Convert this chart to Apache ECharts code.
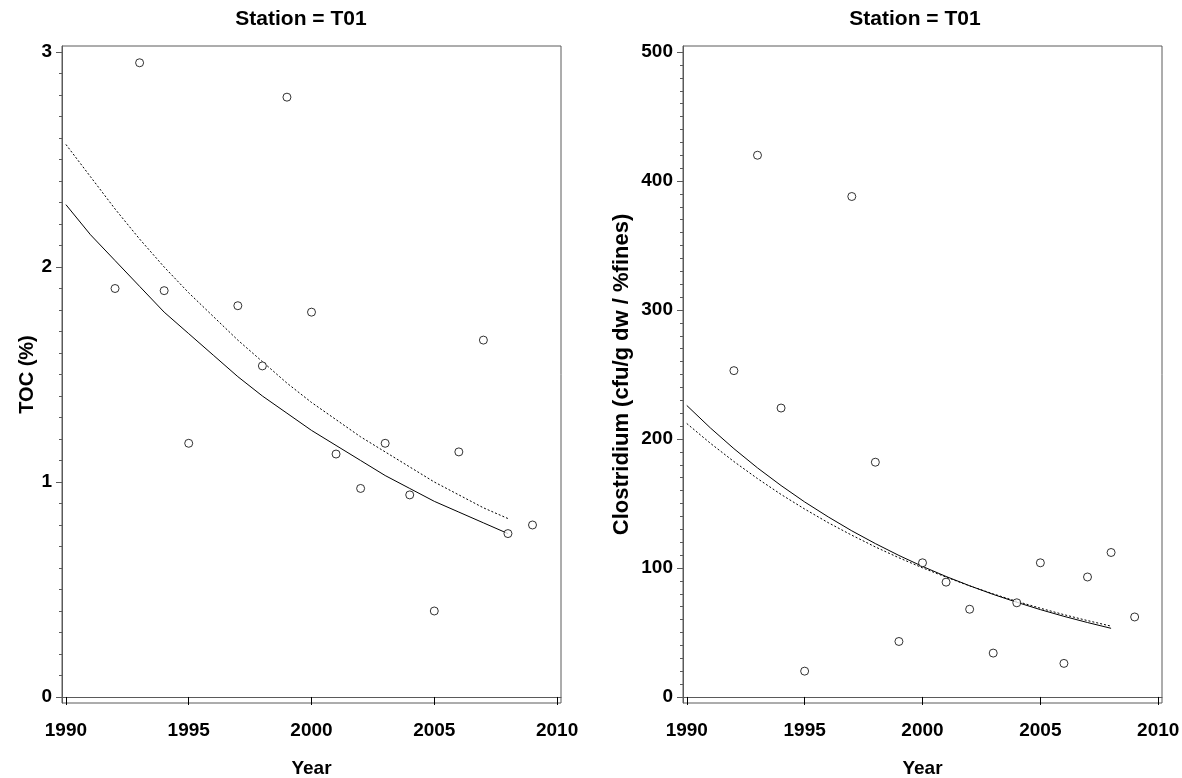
<!DOCTYPE html>
<html>
<head>
<meta charset="utf-8">
<script src="https://cdn.jsdelivr.net/npm/echarts@6/dist/echarts.min.js"></script>
<style>
html,body{margin:0;padding:0;background:#fff;}
#chart{width:1182px;height:778px;}
</style>
</head>
<body>
<div id="chart"></div>
<script>
// ---- data ----
const tocYears = [1992,1993,1994,1995,1997,1998,1999,2000,2001,2002,2003,2004,2005,2006,2007,2008,2009];
const tocValues = [1.90,2.95,1.89,1.18,1.82,1.54,2.79,1.79,1.13,0.97,1.18,0.94,0.40,1.14,1.66,0.76,0.80];

const cloYears = [1992,1993,1994,1995,1997,1998,1999,2000,2001,2002,2003,2004,2005,2006,2007,2008,2009];
const cloValues = [253,420,224,20,388,182,43,104,89,68,34,73,104,26,93,112,62];

const fitYears = [1990,1991,1992,1993,1994,1995,1996,1997,1998,1999,2000,2001,2002,2003,2004,2005,2006,2007,2008];
const tocFitSolid = [2.29,2.15,2.03,1.91,1.79,1.69,1.59,1.49,1.40,1.32,1.24,1.17,1.10,1.03,0.97,0.91,0.86,0.81,0.76];
const tocFitDashed = [2.57,2.42,2.27,2.13,2.00,1.88,1.77,1.66,1.56,1.46,1.37,1.29,1.21,1.14,1.07,1.00,0.94,0.88,0.83];
const cloFitSolid = [226,208.6,192.5,177.6,163.9,151.2,139.6,128.8,118.9,109.7,101.2,93.4,86.2,79.5,73.4,67.7,62.5,57.7,53.2];
const cloFitDashed = [212,196.7,182.5,169.3,157.0,145.7,135.1,125.4,116.3,107.9,100.1,92.9,86.1,79.9,74.1,68.8,63.8,59.2,54.9];

const xTicks = [1990,1995,2000,2005,2010];
const tocTicks = [0,1,2,3];
const cloTicks = [0,100,200,300,400,500];

const titles = ['Station = T01','Station = T01'];
const yNames = ['TOC (%)','Clostridium (cfu/g dw / %fines)'];
const xName = 'Year';

// ---- helpers ----
function pairs(xs, ys){ return xs.map((x,i)=>[x, ys[i]]); }
function minorOf(major){
  const out = [];
  for (let i = 0; i < major.length - 1; i++) {
    const step = (major[i+1] - major[i]) / 10;
    for (let k = 1; k < 10; k++) out.push(+(major[i] + k*step).toFixed(6));
  }
  return out;
}

const FONT = "'Liberation Sans', Arial, sans-serif";
const AX = '#5a5a5a';
const grids = [
  {left: 62, top: 46, width: 499, height: 657},
  {left: 683, top: 46, width: 479, height: 657}
];

function xAxisFor(gi){
  return {
    type: 'value', gridIndex: gi, min: 1989.84, max: 2010.16,
    name: xName, nameLocation: 'middle', nameGap: 56,
    nameTextStyle: {fontFamily: FONT, fontWeight: 'bold', fontSize: 19, color: '#000'},
    axisLine: {show: true, lineStyle: {color: AX, width: 1}},
    axisTick: {show: true, customValues: xTicks, length: 8, inside: false, lineStyle: {color: '#000'}},
    axisLabel: {show: true, customValues: xTicks, margin: 18, formatter: v => String(Math.round(v)),
      fontFamily: FONT, fontWeight: 'bold', fontSize: 19, color: '#000'},
    splitLine: {show: false}
  };
}
function yAxesFor(gi, ticks, min, max, name, gap, nameSize){
  return [{
    type: 'value', gridIndex: gi, min: min, max: max, position: 'left',
    name: name, nameLocation: 'middle', nameGap: gap, nameRotate: 90,
    nameTextStyle: {fontFamily: FONT, fontWeight: 'bold', fontSize: nameSize, color: '#000'},
    axisLine: {show: true, lineStyle: {color: AX, width: 1}},
    axisTick: {show: true, customValues: ticks, length: 6, lineStyle: {color: AX}},
    axisLabel: {show: true, customValues: ticks, margin: 10, formatter: v => String(Math.round(v)),
      fontFamily: FONT, fontWeight: 'bold', fontSize: 19, color: '#000'},
    splitLine: {show: false}
  },{
    type: 'value', gridIndex: gi, min: min, max: max, position: 'left',
    axisLine: {show: false},
    axisTick: {show: true, customValues: minorOf(ticks), length: 3, lineStyle: {color: AX}},
    axisLabel: {show: false},
    splitLine: {show: false}
  }];
}

const scatterStyle = {
  type: 'scatter', symbol: 'circle', symbolSize: 8,
  itemStyle: {color: '#fff', borderColor: '#000', borderWidth: 1},
  z: 5
};
function line(xi, yi, data, dashed){
  return {
    type: 'line', xAxisIndex: xi, yAxisIndex: yi, data: data,
    showSymbol: false, symbol: 'none', smooth: false,
    lineStyle: {color: '#000', width: 1, type: dashed ? [2,2] : 'solid'},
    z: 3
  };
}

const option = {
  animation: false,
  backgroundColor: '#fff',
  title: [
    {text: titles[0], left: 296, top: 4, textAlign: 'center',
     textStyle: {fontFamily: FONT, fontWeight: 'bold', fontSize: 21, color: '#000'}},
    {text: titles[1], left: 910, top: 4, textAlign: 'center',
     textStyle: {fontFamily: FONT, fontWeight: 'bold', fontSize: 21, color: '#000'}}
  ],
  grid: grids.map(g => Object.assign({show: true, borderColor: AX, borderWidth: 1, backgroundColor: 'transparent',
    containLabel: false, outerBoundsMode: 'none'}, g)),
  xAxis: [xAxisFor(0), xAxisFor(1)],
  yAxis: [
    ...yAxesFor(0, tocTicks, -0.028, 3.028, yNames[0], 22, 20),
    ...yAxesFor(1, cloTicks, -4.7, 504.7, yNames[1], 50, 22)
  ],
  series: [
    Object.assign({}, scatterStyle, {xAxisIndex: 0, yAxisIndex: 0, data: pairs(tocYears, tocValues)}),
    line(0, 0, pairs(fitYears, tocFitSolid), false),
    line(0, 0, pairs(fitYears, tocFitDashed), true),
    Object.assign({}, scatterStyle, {xAxisIndex: 1, yAxisIndex: 2, data: pairs(cloYears, cloValues)}),
    line(1, 2, pairs(fitYears, cloFitSolid), false),
    line(1, 2, pairs(fitYears, cloFitDashed), true)
  ]
};

const chart = echarts.init(document.getElementById('chart'), null, {renderer: 'canvas'});
chart.setOption(option);
</script>
</body>
</html>
